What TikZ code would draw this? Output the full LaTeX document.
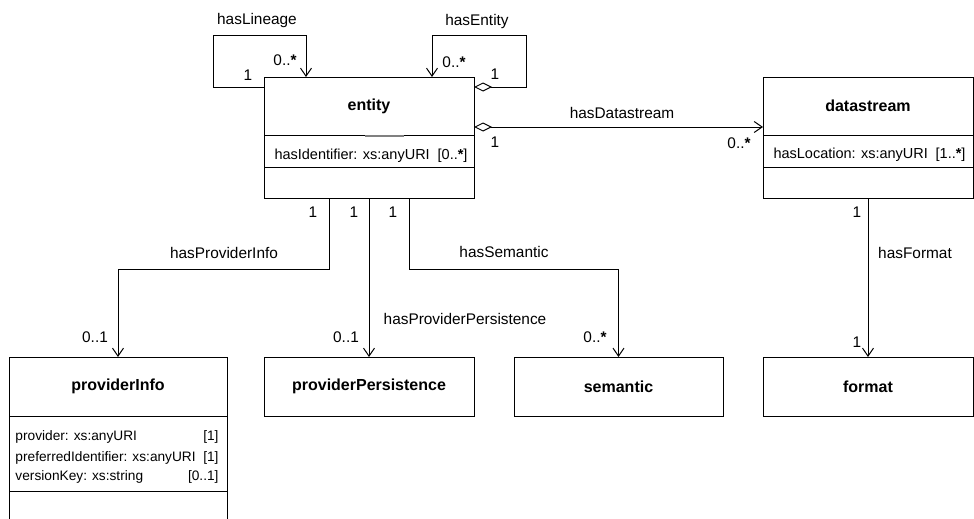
\documentclass[tikz,border=0pt]{standalone}
\usepackage{fontspec}
\setmainfont{Liberation Sans}
\usepackage{tikz}
\usetikzlibrary{arrows.meta}
\usetikzlibrary{positioning}
\newcommand{\mstar}{\textbf{*}}

\begin{document}
\begin{tikzpicture}[x=1pt,y=-1pt,line width=1pt]
  \tikzstyle{classname}=[draw, outer sep=0pt, inner sep=0pt, minimum width=210pt, minimum height=58pt, font=\fontsize{16}{19}\selectfont\bfseries]
  \tikzstyle{compart}=[draw, outer sep=0pt, inner sep=0pt, minimum width=210pt]
  \tikzstyle{lbl}=[inner sep=0pt, anchor=base, font=\fontsize{15.4}{18}\selectfont]
  \tikzstyle{attr}=[inner sep=0pt, font=\fontsize{14.5}{17}\selectfont]
  \tikzstyle{smallattr}=[inner sep=0pt, font=\fontsize{13.7}{16}\selectfont]
  \tikzstyle{assoc}=[-{Straight Barb[length=8pt,width=11pt]}]
  \tikzstyle{aggr}=[{Diamond[open,length=18pt,width=9pt]}-{Straight Barb[length=8pt,width=11pt]}]
  \useasboundingbox (0,0) rectangle (974,519);
  \clip (0,0) rectangle (974,519);

  % classes, top row
  \node[classname] (entity) at (369,106) {entity};
  \node[compart, minimum height=32pt] (entityAttr) [below=0pt of entity] {};
  \node[compart, minimum height=31pt] (entityOps) [below=0pt of entityAttr] {};
  \draw[gray, line width=1.6pt] ([xshift=-4pt,yshift=-1pt]entity.south) -- ([xshift=35pt,yshift=-1pt]entity.south);
  \node[classname] (datastream) at (868,106) {datastream};
  \node[compart, minimum height=32pt] (datastreamAttr) [below=0pt of datastream] {};
  \node[compart, minimum height=31pt] (datastreamOps) [below=0pt of datastreamAttr] {};

  % classes, bottom row
  \node[classname, minimum width=218pt, minimum height=59pt] (providerInfo) at (118,386.5) {providerInfo};
  \node[compart, minimum width=218pt, minimum height=75pt] (providerInfoAttr) [below=0pt of providerInfo] {};
  \node[compart, minimum width=218pt, minimum height=40pt] (providerInfoOps) [below=0pt of providerInfoAttr] {};
  \node[classname, minimum height=59pt] (providerPersistence) at (369,386.5) {providerPersistence};
  \node[classname, minimum width=209pt, minimum height=59pt] (semantic) at (618.5,386.5) {semantic};
  \node[classname, minimum height=59pt] (format) at (868,386.5) {format};

  % attributes
  \node[attr, anchor=base west] (idAttr) at (274,159) {hasIdentifier: xs:anyURI};
  \node[attr, anchor=base east] (idMult) at (468,159) {[0..\mstar]};
  \node[attr, anchor=base west] (locAttr) at (773,158) {hasLocation: xs:anyURI};
  \node[attr, anchor=base east] (locMult) at (966,158) {[1..\mstar]};
  \node[smallattr, anchor=base west] (provAttr) at (15,440) {provider: xs:anyURI};
  \node[smallattr, anchor=base east] (provMult) at (219,440) {[1]};
  \node[smallattr, anchor=base west] (prefAttr) at (15,461) {preferredIdentifier: xs:anyURI};
  \node[smallattr, anchor=base east] (prefMult) at (219,461) {[1]};
  \node[smallattr, anchor=base west] (verAttr) at (15,480) {versionKey: xs:string};
  \node[smallattr, anchor=base east] (verMult) at (219,480) {[0..1]};

  % associations
  \draw[assoc] ([yshift=19pt]entity.west) -| ++(-51,-51) -| ([xshift=-63pt]entity.north);
  \draw[aggr] ([yshift=19pt]entity.east) -| ++(52,-51) -| ([xshift=63pt]entity.north);
  \draw[aggr] ([yshift=-21pt]entity.east) -- ([yshift=-21pt]datastream.west);
  \draw[assoc] ([xshift=-40pt]entityOps.south) -- ++(0,71) -| (providerInfo.north);
  \draw[assoc] (entityOps.south) -- (providerPersistence.north);
  \draw[assoc] ([xshift=40pt]entityOps.south) -- ++(0,71) -| (semantic.north);
  \draw[assoc] (datastreamOps.south) -- (format.north);

  % role names
  \node[lbl] (lLineage) at (257,25) {hasLineage};
  \node[lbl] (lEntity) at (477,26) {hasEntity};
  \node[lbl] (lDatastream) at (622,118) {hasDatastream};
  \node[lbl] (lProviderInfo) at (224,258) {hasProviderInfo};
  \node[lbl] (lPersistence) at (465,324) {hasProviderPersistence};
  \node[lbl] (lSemantic) at (504,257) {hasSemantic};
  \node[lbl] (lFormat) at (915,258) {hasFormat};

  % multiplicities
  \node[lbl] (mLineageA) at (248,81) {1};
  \node[lbl] (mLineageB) at (285,66) {0..\mstar};
  \node[lbl] (mEntityB) at (454,67) {0..\mstar};
  \node[lbl] (mEntityA) at (495,80) {1};
  \node[lbl] (mDatastreamA) at (495,147) {1};
  \node[lbl] (mDatastreamB) at (739,148) {0..\mstar};
  \node[lbl] (mInfoA) at (313,217) {1};
  \node[lbl] (mPersistA) at (354,217) {1};
  \node[lbl] (mSemanticA) at (393,217) {1};
  \node[lbl] (mInfoB) at (95,342) {0..1};
  \node[lbl] (mPersistB) at (346,342) {0..1};
  \node[lbl] (mSemanticB) at (595,342) {0..\mstar};
  \node[lbl] (mFormatA) at (857,217) {1};
  \node[lbl] (mFormatB) at (857,347) {1};
\end{tikzpicture}
\end{document}
